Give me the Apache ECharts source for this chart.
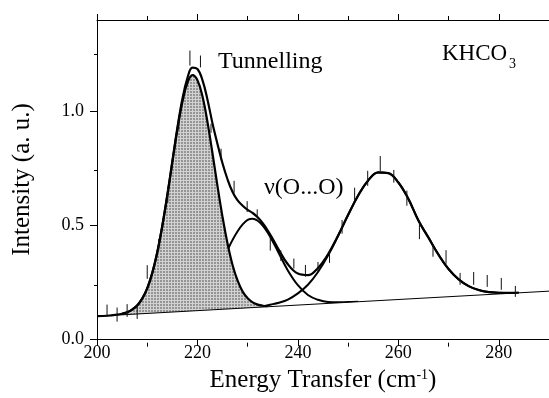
<!DOCTYPE html>
<html><head><meta charset="utf-8">
<script src="https://cdn.jsdelivr.net/npm/echarts@6/dist/echarts.min.js"></script>
<style>html,body{margin:0;padding:0;background:#fff}#c{width:549px;height:398px}</style>
</head><body><div id="c"></div>
<script>
// ---- tick labels ----
const xMajorTicks = [200, 220, 240, 260, 280];
const xMinorTicks = [210, 230, 250, 270, 290];
const yMajorTicks = [0, 0.5, 1.0];
const yMinorTicks = [0.25, 0.75, 1.25];

// ---- measured points with error bars ----
const dataX = [202.0,204.0,206.0,208.0,210.0,212.3,214.1,216.3,218.5,220.6,222.7,224.7,227.3,229.9,231.9,234.5,236.6,239.2,241.5,244.0,246.3,248.8,251.3,253.9,256.4,259.1,261.7,264.2,266.9,269.5,272.3,275.0,277.7,280.5,283.3];
const dataY = [0.125,0.107,0.125,0.118,0.294,0.414,0.631,0.938,1.233,1.218,0.925,0.810,0.668,0.581,0.549,0.416,0.366,0.331,0.299,0.318,0.360,0.492,0.636,0.705,0.770,0.714,0.618,0.473,0.389,0.360,0.264,0.266,0.255,0.242,0.209];
const dataErr = [0.026,0.031,0.028,0.030,0.030,0.026,0.033,0.020,0.033,0.026,0.020,0.025,0.026,0.024,0.020,0.028,0.023,0.022,0.026,0.020,0.026,0.030,0.028,0.033,0.033,0.028,0.033,0.035,0.028,0.030,0.026,0.028,0.026,0.026,0.024];

// ---- linear background ----
const baseX = [200, 290];
const baseY = [0.100, 0.210];

// ---- tunnelling component (incl. background) ----
const tunnelX = [205,206,207,208,209,210,211,212,213,214,215,216,217,218,219,220,221,222,223,224,225,226,227,228,229,230,231,232,233,234];
const tunnelY = [0.111,0.117,0.129,0.147,0.177,0.222,0.289,0.380,0.495,0.629,0.775,0.918,1.040,1.124,1.158,1.136,1.065,0.952,0.814,0.670,0.535,0.418,0.324,0.256,0.208,0.179,0.161,0.151,0.146,0.144];

// ---- nu(O...O) component (incl. background) ----
const ooX = [216,217,218,219,220,221,222,223,224,225,226,227,228,229,230,231,232,233,234,235,236,238,240,242,244,246,248,250,252];
const ooY = [0.128,0.134,0.143,0.156,0.173,0.197,0.225,0.260,0.300,0.345,0.391,0.435,0.473,0.503,0.523,0.528,0.519,0.498,0.466,0.428,0.385,0.301,0.236,0.193,0.172,0.162,0.161,0.162,0.163];

// ---- third component (incl. background) ----
const thirdX = [228,229,230,231,232,233,234,235,236,238,240,242,244,246,248,250,252,254,256,258,260,262,264,266,268,270,272,274,276,278,280,282,284];
const thirdY = [0.134,0.136,0.138,0.140,0.142,0.144,0.148,0.153,0.158,0.173,0.200,0.238,0.294,0.366,0.452,0.544,0.630,0.696,0.731,0.728,0.687,0.615,0.520,0.445,0.370,0.307,0.262,0.232,0.215,0.206,0.203,0.202,0.203];

// ---- total fit ----
const totalX = [200,202,204,205,206,207,208,209,210,211,212,213,214,215,216,217,218,219,220,221,222,223,224,225,226,227,228,229,230,231,232,233,234,235,236,238,240,242,244,246,248,250,252,254,256,258,260,262,264,266,268,270,272,274,276,278,280,282,284];
const totalY = [0.100,0.102,0.107,0.111,0.117,0.129,0.147,0.177,0.222,0.290,0.381,0.497,0.632,0.780,0.926,1.053,1.145,1.191,1.185,1.136,1.050,0.946,0.855,0.770,0.700,0.645,0.608,0.585,0.567,0.553,0.534,0.508,0.476,0.439,0.399,0.328,0.287,0.280,0.312,0.372,0.454,0.545,0.630,0.696,0.731,0.728,0.687,0.615,0.520,0.445,0.370,0.307,0.262,0.232,0.215,0.206,0.203,0.202,0.203];

const FF = '"Liberation Serif", "Times New Roman", serif';
const zip = (xs, ys) => xs.map((x, i) => [x, ys[i]]);

// hatched grey fill pattern
const pat = document.createElement('canvas');
pat.width = 3; pat.height = 3;
const g = pat.getContext('2d');
g.fillStyle = '#959595'; g.fillRect(0, 0, 3, 3);
g.fillStyle = '#d2d2d2'; g.fillRect(0, 0, 3, 1); g.fillRect(0, 0, 1, 3);

const chart = echarts.init(document.getElementById('c'), null, {renderer: 'canvas'});
const gridRect = {left: 97, top: 20, width: 455, height: 322.7};
const lbl = {fontFamily: FF, fontSize: 18, color: '#000'};

chart.setOption({
  animation: false,
  backgroundColor: '#fff',
  grid: [Object.assign({}, gridRect), Object.assign({}, gridRect)],
  xAxis: [
    {type: 'value', gridIndex: 0, position: 'bottom', min: 200, max: 290, z: 10,
     axisLine: {show: true, onZero: false, lineStyle: {color: '#000', width: 1}},
     axisTick: {show: true, inside: false, length: 7, customValues: xMajorTicks, lineStyle: {color: '#000'}},
     axisLabel: Object.assign({show: true, margin: 5, customValues: xMajorTicks}, lbl),
     splitLine: {show: false},
     name: '{a|Energy Transfer (cm}{s|-1}{a|)}', nameLocation: 'middle', nameGap: 29,
     nameTextStyle: {rich: {
       a: {fontFamily: FF, fontSize: 25, color: '#000'},
       s: {fontFamily: FF, fontSize: 14, color: '#000', verticalAlign: 'top'}
     }}},
    {type: 'value', gridIndex: 0, position: 'top', min: 200, max: 290, z: 10,
     axisLine: {show: true, onZero: false, lineStyle: {color: '#000', width: 1}},
     axisTick: {show: true, inside: false, length: 6, customValues: xMajorTicks, lineStyle: {color: '#000'}},
     axisLabel: {show: false}, splitLine: {show: false}},
    {type: 'value', gridIndex: 1, position: 'bottom', min: 200, max: 290, z: 10,
     axisLine: {show: false, onZero: false},
     axisTick: {show: true, inside: false, length: 4, customValues: xMinorTicks, lineStyle: {color: '#000'}},
     axisLabel: {show: false}, splitLine: {show: false}},
    {type: 'value', gridIndex: 1, position: 'top', min: 200, max: 290, z: 10,
     axisLine: {show: false, onZero: false},
     axisTick: {show: true, inside: false, length: 4, customValues: xMinorTicks, lineStyle: {color: '#000'}},
     axisLabel: {show: false}, splitLine: {show: false}}
  ],
  yAxis: [
    {type: 'value', gridIndex: 0, position: 'left', min: 0, max: 1.4, z: 10,
     axisLine: {show: true, onZero: false, lineStyle: {color: '#000', width: 1}},
     axisTick: {show: true, inside: false, length: 7, customValues: yMajorTicks, lineStyle: {color: '#000'}},
     axisLabel: Object.assign({show: true, margin: 13, customValues: yMajorTicks, formatter: v => v.toFixed(1)}, lbl),
     splitLine: {show: false},
     name: 'Intensity (a. u.)', nameLocation: 'middle', nameGap: 62,
     nameTextStyle: {fontFamily: FF, fontSize: 25, color: '#000'}},
    {type: 'value', gridIndex: 1, position: 'left', min: 0, max: 1.4, z: 10,
     axisLine: {show: false, onZero: false},
     axisTick: {show: true, inside: false, length: 3, customValues: yMinorTicks, lineStyle: {color: '#000'}},
     axisLabel: {show: false}, splitLine: {show: false}}
  ],
  series: [
    {type: 'line', name: 'O...O', xAxisIndex: 0, yAxisIndex: 0, data: zip(ooX, ooY), smooth: 0.4,
     showSymbol: false, symbol: 'none', z: 2, lineStyle: {color: '#000', width: 2}},
    {type: 'line', name: 'third', xAxisIndex: 0, yAxisIndex: 0, data: zip(thirdX, thirdY), smooth: 0.4,
     showSymbol: false, symbol: 'none', z: 2, lineStyle: {color: '#000', width: 2}},
    {type: 'line', name: 'tunnelFill', xAxisIndex: 0, yAxisIndex: 0, data: zip(tunnelX, tunnelY), smooth: 0.4,
     showSymbol: false, symbol: 'none', z: 3, lineStyle: {width: 0},
     areaStyle: {color: {image: pat, repeat: 'repeat'}, opacity: 1}},
    {type: 'line', name: 'background', xAxisIndex: 0, yAxisIndex: 0, data: zip(baseX, baseY),
     showSymbol: false, symbol: 'none', z: 4, lineStyle: {color: '#000', width: 1},
     areaStyle: {color: '#fff', opacity: 1}},
    {type: 'line', name: 'tunnel', xAxisIndex: 0, yAxisIndex: 0, data: zip(tunnelX, tunnelY), smooth: 0.4,
     showSymbol: false, symbol: 'none', z: 5, lineStyle: {color: '#000', width: 2.2}},
    {type: 'line', name: 'total', xAxisIndex: 0, yAxisIndex: 0, data: zip(totalX, totalY), smooth: 0.4,
     showSymbol: false, symbol: 'none', z: 5, lineStyle: {color: '#000', width: 2.2}},
    {type: 'custom', name: 'data', xAxisIndex: 0, yAxisIndex: 0, z: 6,
     data: dataX.map((x, i) => [x, dataY[i], dataErr[i]]),
     encode: {x: 0, y: 1},
     renderItem: function (params, api) {
       const x = api.value(0), y = api.value(1), e = api.value(2);
       const p1 = api.coord([x, y - e]);
       const p2 = api.coord([x, y + e]);
       return {type: 'line', shape: {x1: p1[0], y1: p1[1], x2: p2[0], y2: p2[1]},
               style: {stroke: '#111', lineWidth: 1}};
     }}
  ],
  graphic: [
    {type: 'text', left: 218, top: 50, z: 20, style: {text: 'Tunnelling', font: '24px "Liberation Serif"', fill: '#000'}},
    {type: 'text', left: 264, top: 176, z: 20, style: {text: 'ν(O...O)', font: '24px "Liberation Serif"', fill: '#000'}},
    {type: 'text', left: 442, top: 42, z: 20, style: {text: 'KHCO', font: '23px "Liberation Serif"', fill: '#000'}},
    {type: 'text', left: 509, top: 57, z: 20, style: {text: '3', font: '14px "Liberation Serif"', fill: '#000'}}
  ]
});
</script>
</body></html>
